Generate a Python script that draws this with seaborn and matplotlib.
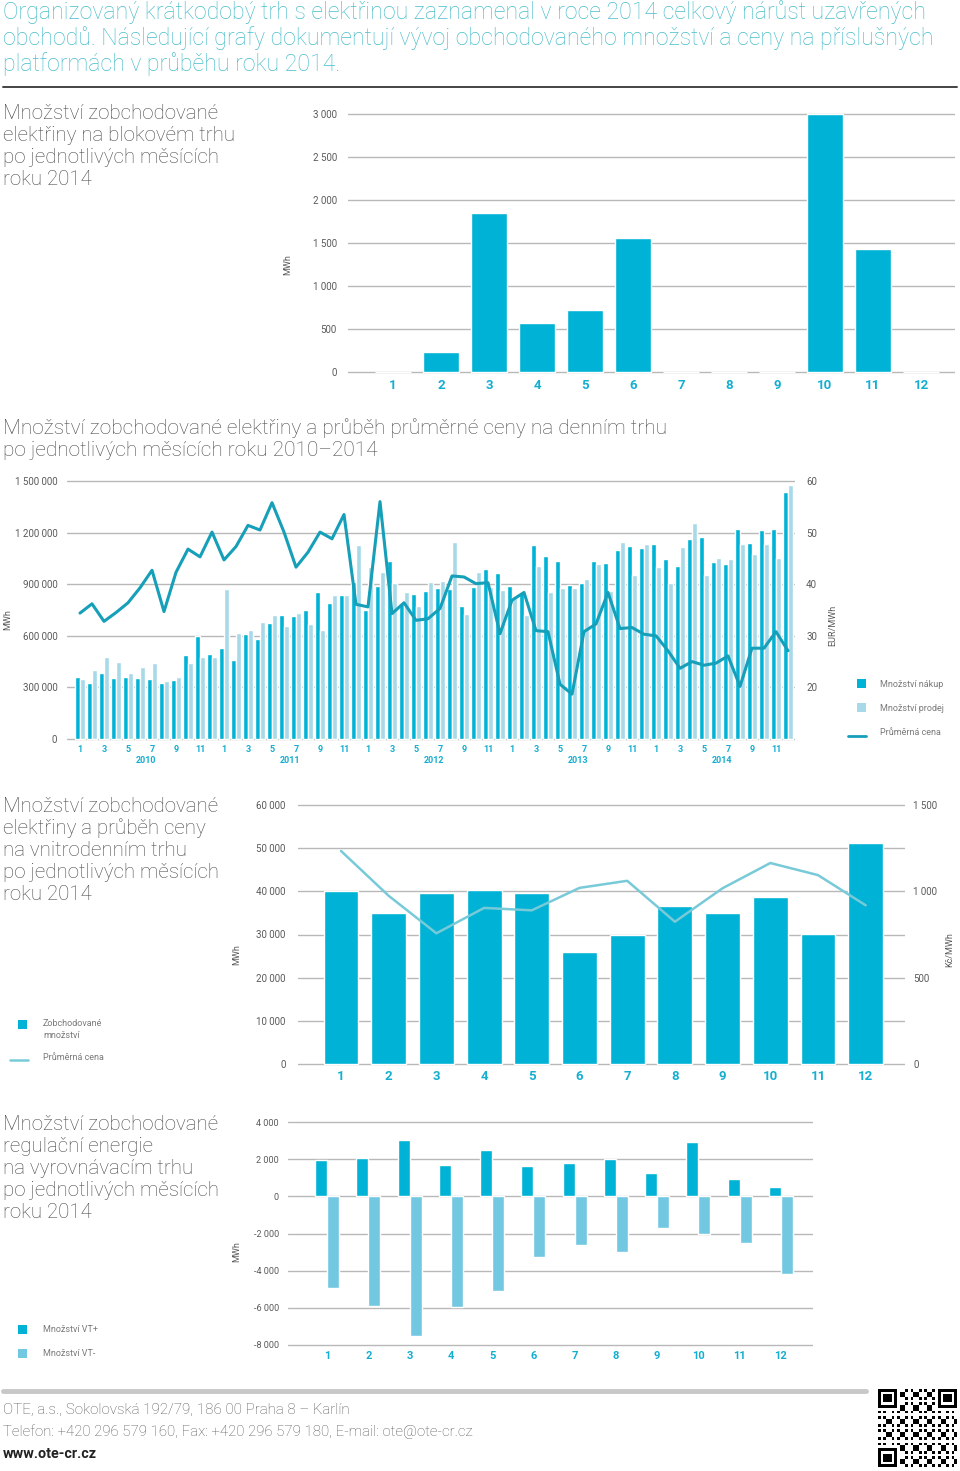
import numpy as np
import pandas as pd
import matplotlib
matplotlib.use('Agg')
import matplotlib.pyplot as plt
import seaborn as sns
from matplotlib.patches import Rectangle
from matplotlib.lines import Line2D

# ---------------- DATA ----------------
months = list(range(1, 13))

# Block market 2014 (MWh)
block_mwh = [0, 230, 1850, 570, 720, 1555, 0, 0, 0, 2995, 1435, 0]

# Day-ahead market 2010-2014 (MWh, thousands) and price (EUR/MWh)
years = [2010, 2011, 2012, 2013, 2014]
dam_buy_k = [
    360, 327, 386, 356, 362, 353, 351, 327, 341, 487, 600, 497,
    530, 460, 612, 584, 676, 721, 715, 750, 853, 789, 838, 914,
    750, 892, 1032, 785, 841, 861, 880, 871, 773, 886, 988, 968,
    888, 851, 1126, 1066, 1032, 898, 908, 1034, 1025, 1097, 1124, 1112,
    1136, 1044, 1005, 1165, 1173, 1029, 1019, 1223, 1142, 1214, 1223, 1436,
]
dam_sell_k = [
    351, 401, 477, 448, 386, 421, 440, 337, 360, 444, 479, 479,
    871, 618, 633, 682, 721, 656, 730, 670, 633, 838, 840, 1126,
    1000, 970, 906, 857, 773, 912, 921, 1145, 727, 972, 882, 867,
    820, 721, 1005, 855, 875, 875, 933, 1017, 859, 1145, 953, 1134,
    1001, 908, 1116, 1256, 951, 1050, 1048, 1136, 1075, 1136, 1054, 1477,
]
dam_price = [
    34.4, 36.2, 32.8, 34.5, 36.4, 39.3, 42.7, 34.7, 42.3, 46.8, 45.3, 50.1,
    44.7, 47.3, 51.4, 50.5, 55.8, 50.1, 43.3, 46.2, 50.1, 48.8, 53.5, 36.1,
    35.6, 56.0, 34.3, 36.4, 33.0, 33.3, 35.3, 41.6, 41.4, 40.1, 40.3, 30.4,
    36.9, 38.4, 31.0, 30.8, 20.6, 18.7, 30.8, 32.3, 38.4, 31.4, 31.6, 30.3,
    30.0, 27.1, 23.7, 25.0, 24.3, 24.7, 26.1, 20.2, 27.6, 27.6, 30.8, 27.1,
]

# Intraday market 2014
intraday_mwh = [40000, 35000, 39500, 40200, 39500, 26000, 29900, 36600, 35000, 38700, 30200, 51200]
intraday_price = [1234, 974, 757, 904, 890, 1020, 1061, 824, 1018, 1164, 1094, 919]

# Balancing market 2014 (MWh)
vt_plus = [1930, 2070, 3030, 1690, 2490, 1640, 1820, 2020, 1260, 2940, 955, 520]
vt_minus = [-4940, -5890, -7510, -5950, -5080, -3240, -2610, -2970, -1690, -2040, -2500, -4160]

# ---------------- STYLE ----------------
W, H = 960, 1471
sns.set_theme(style='white')
plt.rcParams['font.family'] = ['Roboto', 'DejaVu Sans']

C_DARK = '#00b2d5'
C_LIGHT = '#a7d9e8'
C_VTM = '#72c8e0'
C_LINE = '#169fb8'
C_LINE2 = '#78cad8'
C_TICKX = '#13aed0'
C_TICKY = '#5a5a5a'
C_GRID = '#b8b8b8'
C_HEAD = '#48bdca'
C_TITLE = '#4a4a4a'

fig = plt.figure(figsize=(W / 100, H / 100), dpi=100)
fig.patch.set_facecolor('white')


def px_axes(x0, x1, y_top, y_bot):
    ax = fig.add_axes([x0 / W, 1 - y_bot / H, (x1 - x0) / W, (y_bot - y_top) / H])
    ax.set_facecolor('none')
    return ax


def set_y(ax, v_top, p_top, v_bot, p_bot, a_top, a_bot):
    s = (v_top - v_bot) / (p_bot - p_top)
    ax.set_ylim(v_bot - (a_bot - p_bot) * s, v_top + (p_top - a_top) * s)


def set_x(ax, c0, step, x0, x1):
    ax.set_xlim((x0 - c0) / step, (x1 - c0) / step)


def style(ax, yticks, ylabels, ysize=7, ypad=8, xsize=9.5, xpad=4):
    for s in ax.spines.values():
        s.set_visible(False)
    ax.set_yticks(yticks)
    ax.set_yticklabels(ylabels)
    ax.tick_params(axis='both', length=0)
    ax.tick_params(axis='y', labelsize=ysize, labelcolor=C_TICKY, pad=ypad)
    ax.tick_params(axis='x', labelsize=xsize, labelcolor=C_TICKX, pad=xpad)
    for t in ax.get_xticklabels():
        t.set_fontweight('bold')
    ax.grid(axis='y', color=C_GRID, linewidth=1.0)
    ax.grid(axis='x', visible=False)
    ax.set_axisbelow(True)
    ax.set_xlabel('')
    ax.set_ylabel('')


def fmt(v):
    return f'{int(v):,}'.replace(',', ' ')

# ---------------- CHART 1: block market ----------------
ax1 = px_axes(348, 955, 110, 374)
df1 = pd.DataFrame({'m': months, 'v': block_mwh})
sns.barplot(data=df1, x='m', y='v', color=C_DARK, width=0.75, saturation=1, ax=ax1)
set_y(ax1, 3000, 114, 0, 372, 110, 374)
set_x(ax1, 393, 48, 348, 955)
style(ax1, list(range(0, 3001, 500)), [fmt(v) for v in range(0, 3001, 500)], ysize=7, ypad=8, xsize=9.5, xpad=3.5)

# ---------------- CHART 2: day-ahead market ----------------
n = len(dam_buy_k)
idx = list(range(n))
df2 = pd.DataFrame({
    'i': idx * 2,
    'v': [v * 1000 for v in dam_buy_k] + [v * 1000 for v in dam_sell_k],
    's': ['Množství nákup'] * n + ['Množství prodej'] * n,
})
ax2 = px_axes(67, 795, 477, 741)
sns.barplot(data=df2, x='i', y='v', hue='s', hue_order=['Množství nákup', 'Množství prodej'],
            palette=[C_DARK, C_LIGHT], width=0.8, saturation=1, legend=False, ax=ax2)
set_y(ax2, 1500000, 481, 0, 739, 477, 741)
set_x(ax2, 80, 12, 67, 795)
style(ax2, list(range(0, 1500001, 300000)), [fmt(v) for v in range(0, 1500001, 300000)],
      ysize=7, ypad=7, xsize=6.5, xpad=3)
tick_pos = [i for i in idx if i % 2 == 0]
ax2.set_xticks(tick_pos)
ax2.set_xticklabels([str(i % 12 + 1) for i in tick_pos])
for t in ax2.get_xticklabels():
    t.set_fontweight('bold')

ax2b = ax2.twinx()
ax2b.set_facecolor('none')
sns.lineplot(x=idx, y=dam_price, color=C_LINE, linewidth=2.2, ax=ax2b)
lo, hi = ax2.get_ylim()
ax2b.set_ylim(10 + lo / 30000, 10 + hi / 30000)
for s in ax2b.spines.values():
    s.set_visible(False)
ax2b.set_yticks([20, 30, 40, 50, 60])
ax2b.tick_params(axis='y', length=0, labelsize=7, labelcolor=C_TICKY, pad=8)
ax2b.set_ylabel('')
ax2b.grid(False)

# ---------------- CHART 3: intraday ----------------
ax3 = px_axes(298, 905, 801, 1066)
df3 = pd.DataFrame({'m': months, 'v': intraday_mwh})
sns.barplot(data=df3, x='m', y='v', color=C_DARK, width=0.73, saturation=1, ax=ax3)
set_y(ax3, 60000, 805, 0, 1064, 801, 1066)
set_x(ax3, 341, 47.7, 298, 905)
style(ax3, list(range(0, 60001, 10000)), [fmt(v) for v in range(0, 60001, 10000)],
      ysize=7, ypad=9, xsize=9.5, xpad=3)
ax3b = ax3.twinx()
ax3b.set_facecolor('none')
sns.lineplot(x=list(range(12)), y=intraday_price, color=C_LINE2, linewidth=1.8, ax=ax3b)
lo, hi = ax3.get_ylim()
ax3b.set_ylim(lo / 40, hi / 40)
for s in ax3b.spines.values():
    s.set_visible(False)
ax3b.set_yticks([0, 500, 1000, 1500])
ax3b.set_yticklabels(['0', '500', '1 000', '1 500'])
ax3b.tick_params(axis='y', length=0, labelsize=7, labelcolor=C_TICKY, pad=6)
ax3b.set_ylabel('')
ax3b.grid(False)

# ---------------- CHART 4: balancing market ----------------
ax4 = px_axes(288, 813, 1118, 1347)
df4 = pd.DataFrame({
    'm': months * 2,
    'v': vt_plus + vt_minus,
    's': ['Množství VT+'] * 12 + ['Množství VT-'] * 12,
})
sns.barplot(data=df4, x='m', y='v', hue='s', hue_order=['Množství VT+', 'Množství VT-'],
            palette=[C_DARK, C_VTM], width=0.58, saturation=1, legend=False, ax=ax4)
set_y(ax4, 4000, 1122, -8000, 1345, 1118, 1347)
set_x(ax4, 327, 41.27, 288, 813)
yt4 = list(range(-8000, 4001, 2000))
style(ax4, yt4, [('-' + fmt(-v)) if v < 0 else fmt(v) for v in yt4],
      ysize=6.5, ypad=6.5, xsize=8, xpad=3)

# ---------------- OVERLAY (texts, legends, decorations) ----------------
ov = fig.add_axes([0, 0, 1, 1])
ov.set_xlim(0, W)
ov.set_ylim(H, 0)
ov.axis('off')
ov.patch.set_alpha(0)

head = ["Organizovaný krátkodobý trh s elektřinou zaznamenal v roce 2014 celkový nárůst uzavřených",
        "obchodů. Následující grafy dokumentují vývoj obchodovaného množství a ceny na příslušných",
        "platformách v průběhu roku 2014."]
for k, line in enumerate(head):
    ov.text(3, 12 + 26 * k, line, fontsize=16.7, color=C_HEAD, fontweight='light', va='center', ha='left')
ov.add_line(Line2D([3, 957], [87, 87], color='#444444', linewidth=1.4))


def title(lines, y0, step=22, size=14.8):
    for k, line in enumerate(lines):
        ov.text(3, y0 + step * k, line, fontsize=size, color=C_TITLE, fontweight='light', va='center', ha='left')


title(["Množství zobchodované", "elektřiny na blokovém trhu", "po jednotlivých měsících", "roku 2014"], 113)
title(["Množství zobchodované elektřiny a průběh průměrné ceny na denním trhu",
       "po jednotlivých měsících roku 2010–2014"], 428, size=15.0)
title(["Množství zobchodované", "elektřiny a průběh ceny", "na vnitrodenním trhu",
       "po jednotlivých měsících", "roku 2014"], 806)
title(["Množství zobchodované", "regulační energie", "na vyrovnávacím trhu",
       "po jednotlivých měsících", "roku 2014"], 1125)

# axis unit labels
for (x, y, s) in [(288, 265, 'MWh'), (8, 620, 'MWh'), (833, 625, 'EUR/MWh'),
                  (237, 955, 'MWh'), (950, 950, 'Kč/MWh'), (237, 1252, 'MWh')]:
    ov.text(x, y, s, fontsize=6.5, color=C_TICKY, rotation=90, va='center', ha='center')

# year labels chart 2
for k, yr in enumerate(years):
    ov.text(80 + 12 * (12 * k + 5.5), 760, str(yr), fontsize=6.5, color=C_TICKX,
            fontweight='bold', va='center', ha='center')

LEG = '#7a7a7a'
# legend chart 2
ov.add_patch(Rectangle((857, 679), 9, 9, color=C_DARK, lw=0))
ov.text(880, 684, 'Množství nákup', fontsize=6.5, color=LEG, va='center')
ov.add_patch(Rectangle((857, 703), 9, 9, color=C_LIGHT, lw=0))
ov.text(880, 708, 'Množství prodej', fontsize=6.5, color=LEG, va='center')
ov.add_line(Line2D([848, 866], [736, 736], color=C_LINE, linewidth=2))
ov.text(880, 732, 'Průměrná cena', fontsize=6.5, color=LEG, va='center')

# legend chart 3
ov.add_patch(Rectangle((18, 1020), 9, 9, color=C_DARK, lw=0))
ov.text(43, 1023, 'Zobchodované', fontsize=6.5, color=LEG, va='center')
ov.text(43, 1035, 'množství', fontsize=6.5, color=LEG, va='center')
ov.add_line(Line2D([10, 28], [1060, 1060], color=C_LINE2, linewidth=1.8))
ov.text(43, 1057, 'Průměrná cena', fontsize=6.5, color=LEG, va='center')

# legend chart 4
ov.add_patch(Rectangle((18, 1325), 9, 9, color=C_DARK, lw=0))
ov.text(43, 1329, 'Množství VT+', fontsize=6.5, color=LEG, va='center')
ov.add_patch(Rectangle((18, 1349), 9, 9, color=C_VTM, lw=0))
ov.text(43, 1353, 'Množství VT-', fontsize=6.5, color=LEG, va='center')

# footer
ov.add_line(Line2D([3, 866], [1391, 1391], color='#c8c8c8', linewidth=3.5))
ov.text(3, 1410, 'OTE, a.s., Sokolovská 192/79, 186 00 Praha 8 – Karlín', fontsize=10.9,
        color='#555555', va='center', fontweight='light')
ov.text(3, 1432, 'Telefon: +420 296 579 160, Fax: +420 296 579 180, E-mail: ote@ote-cr.cz', fontsize=10.8,
        color='#555555', va='center', fontweight='light')
ov.text(3, 1454, 'www.ote-cr.cz', fontsize=10.4, color='#222222', va='center', fontweight='bold')

# decorative QR-like code
N = 29
qr = np.zeros((N, N))
for i in range(N):
    for j in range(N):
        qr[i, j] = 1 if ((i * 7 + j * 13 + i * j * 3) % 5) < 2 else 0


def finder(r, c):
    qr[r:r + 8, c:c + 8] = 0
    qr[r:r + 7, c:c + 7] = 1
    qr[r + 1:r + 6, c + 1:c + 6] = 0
    qr[r + 2:r + 5, c + 2:c + 5] = 1


finder(0, 0)
finder(0, N - 7)
qr[0:8, N - 8] = 0
finder(N - 7, 0)
qr[N - 8, 0:8] = 0
axq = px_axes(878, 957, 1389, 1467)
axq.imshow(qr, cmap='Greys', interpolation='nearest', aspect='auto')
axq.axis('off')

fig.savefig('out.png', dpi=100, facecolor='white')
